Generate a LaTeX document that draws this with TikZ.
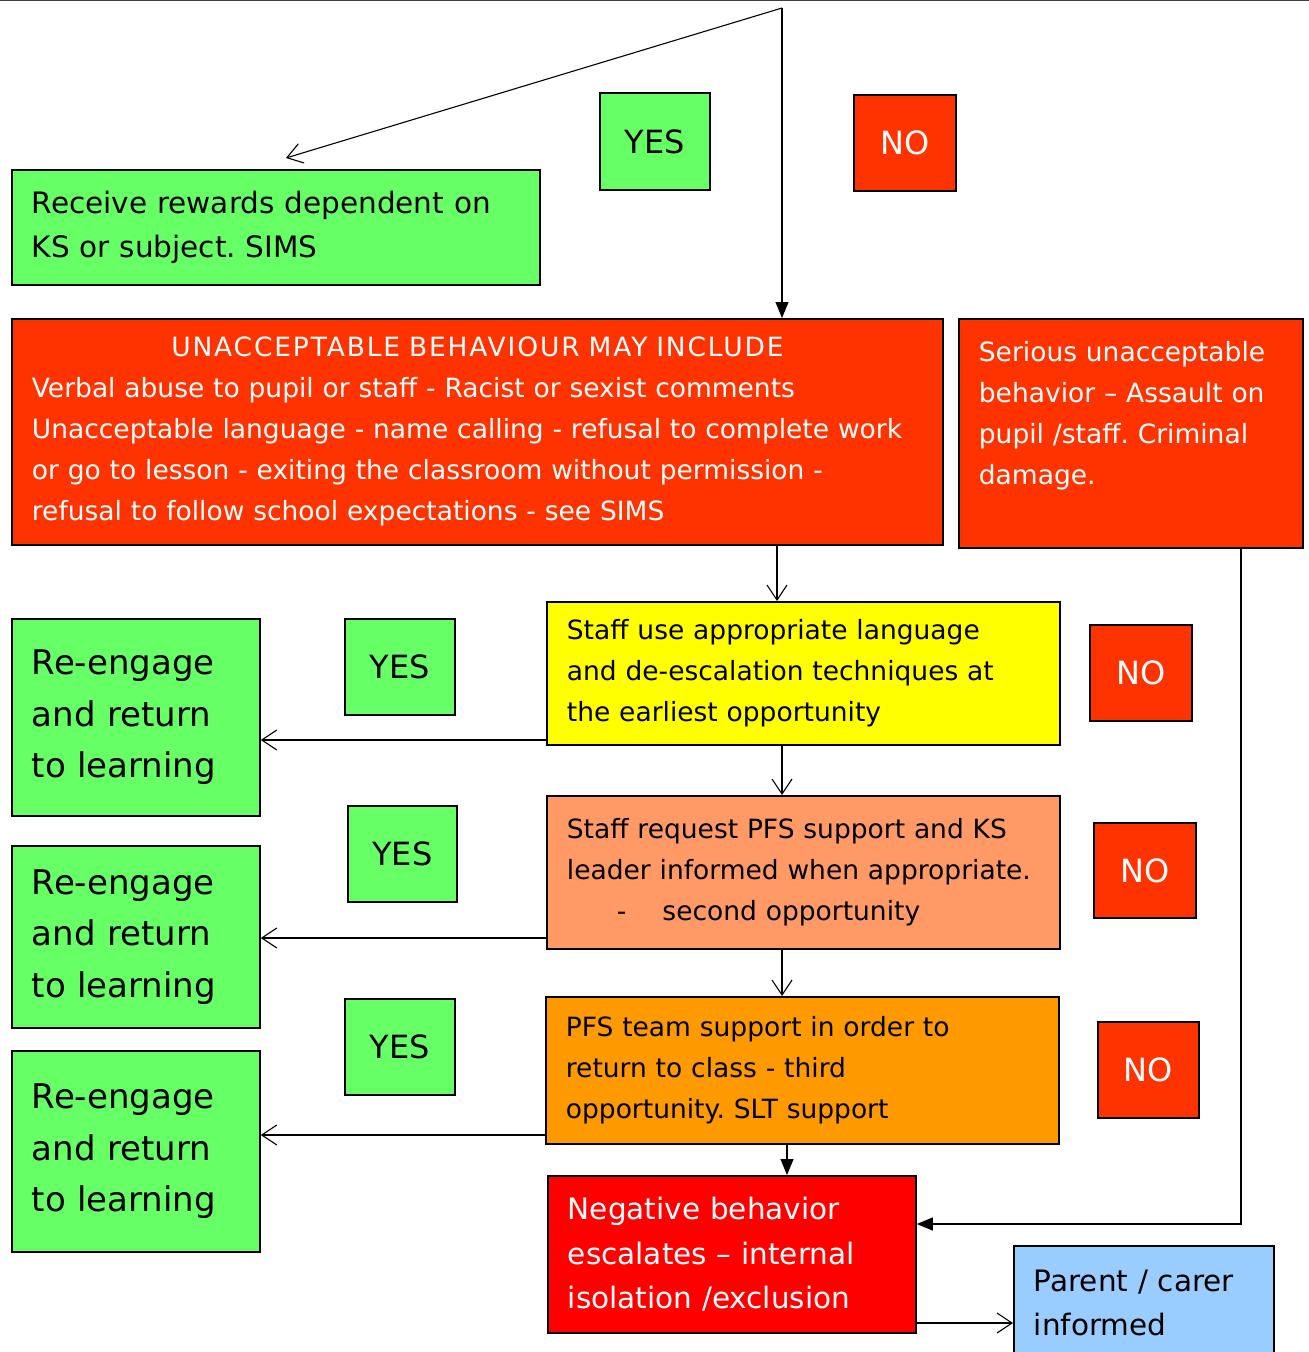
\documentclass[tikz,border=0pt]{standalone}
\usepackage{fontspec}
\setmainfont{DejaVu Sans}
\usepackage{tikz}
\usetikzlibrary{arrows.meta}
\definecolor{okgreen}{HTML}{66FF66}
\definecolor{warnred}{HTML}{FF3300}
\definecolor{calmyellow}{HTML}{FFFF00}
\definecolor{salmon}{HTML}{FF9966}
\definecolor{pfsorange}{HTML}{FF9900}
\definecolor{alarmred}{HTML}{FF0000}
\definecolor{homeblue}{HTML}{99CCFF}
\frenchspacing

\begin{document}
\begin{tikzpicture}[x=1pt,y=-1pt,
  box/.style={draw,line width=1.8pt,anchor=north west,inner xsep=20pt,inner ysep=0pt,align=left},
  body/.style={font=\fontsize{26.5}{41}\selectfont},
  mid/.style={font=\fontsize{29.5}{44.5}\selectfont},
  big/.style={font=\fontsize{34}{51.5}\selectfont},
  yesno/.style={draw,line width=1.8pt,anchor=north west,inner sep=0pt,font=\fontsize{32}{38}\selectfont},
  openarr/.style={-{Straight Barb[length=15pt,width=20pt]},line width=1.1pt},
  fullarr/.style={-{Triangle[length=16pt,width=13pt]},line width=1.1pt}]
\useasboundingbox (0,0) rectangle (1309,1352);
\draw[line width=2pt,black!75] (0,0) -- (1309,0);

% top part
\node (rewards) [box,mid,fill=okgreen,minimum width=528pt,minimum height=115pt,text width=488pt] at (11,169)
  {Receive rewards dependent on\\KS or subject. SIMS};
\node (yes1) [yesno,fill=okgreen,minimum width=110pt,minimum height=97pt] at (599,92) {YES};
\node (no1) [yesno,fill=warnred,text=white,minimum width=102pt,minimum height=96pt] at (853,94) {NO};
\node (unacc) [box,body,fill=warnred,text=white,minimum width=931pt,minimum height=226pt,text width=891pt] at (11,318)
  {\makebox[\linewidth]{\addfontfeature{LetterSpace=7}UNACCEPTABLE BEHAVIOUR MAY INCLUDE}\\
   Verbal abuse to pupil or staff - Racist or sexist comments\\
   Unacceptable language - name calling - refusal to complete work\\
   or go to lesson - exiting the classroom without permission -\\
   refusal to follow school expectations - see SIMS};
\node (serious) [box,body,fill=warnred,text=white,minimum width=344pt,minimum height=229pt,text width=304pt] at (958,318)
  {Serious unacceptable\\behavior – Assault on\\pupil /staff. Criminal\\damage.\\\mbox{}};

% the three steps
\node (deesc) [box,body,fill=calmyellow,minimum width=513pt,minimum height=143pt,text width=473pt] at (546,601)
  {Staff use appropriate language\\and de-escalation techniques at\\the earliest opportunity};
\node (pfsreq) [box,body,fill=salmon,minimum width=513pt,minimum height=153pt,text width=473pt] at (546,795)
  {Staff request PFS support and KS\\leader informed when appropriate.\\\hspace*{50pt}-\hspace{36pt}second opportunity};
\node (pfsteam) [box,body,fill=pfsorange,minimum width=513pt,minimum height=147pt,text width=473pt] at (545,996)
  {PFS team support in order to\\return to class - third\\opportunity. SLT support};
\node (escal) [box,mid,fill=alarmred,text=white,minimum width=368pt,minimum height=157pt,text width=328pt] at (547,1175)
  {Negative behavior\\escalates – internal\\isolation /exclusion};
\node (parent) [box,mid,fill=homeblue,minimum width=260pt,minimum height=114pt,text width=220pt] at (1013,1245)
  {Parent / carer\\informed};

% yes side
\node (reeng1) [box,big,fill=okgreen,minimum width=248pt,minimum height=197pt,text width=208pt] at (11,618)
  {Re-engage\\and return\\to learning};
\node (reeng2) [box,big,fill=okgreen,minimum width=248pt,minimum height=182pt,text width=208pt] at (11,845)
  {Re-engage\\and return\\to learning};
\node (reeng3) [box,big,fill=okgreen,minimum width=248pt,minimum height=201pt,text width=208pt] at (11,1050)
  {Re-engage\\and return\\to learning};
\node (yes2) [yesno,fill=okgreen,minimum width=110pt,minimum height=96pt] at (344,618) {YES};
\node (yes3) [yesno,fill=okgreen,minimum width=109pt,minimum height=96pt] at (347,805) {YES};
\node (yes4) [yesno,fill=okgreen,minimum width=110pt,minimum height=96pt] at (344,998) {YES};

% no side
\node (no2) [yesno,fill=warnred,text=white,minimum width=102pt,minimum height=96pt] at (1089,624) {NO};
\node (no3) [yesno,fill=warnred,text=white,minimum width=102pt,minimum height=95pt] at (1093,822) {NO};
\node (no4) [yesno,fill=warnred,text=white,minimum width=101pt,minimum height=96pt] at (1097,1021) {NO};

% connectors
\coordinate (top) at (782,8);
\draw[openarr] (top) -- ([xshift=10pt,yshift=11pt]rewards.north);
\draw[fullarr] (top) -- (top |- unacc.north);
\draw[openarr] (777,0 |- unacc.south) -- (777,0 |- deesc.north);
\draw[openarr] (782,0 |- deesc.south) -- (782,0 |- pfsreq.north);
\draw[openarr] (782,0 |- pfsreq.south) -- (782,0 |- pfsteam.north);
\draw[fullarr] (787,0 |- pfsteam.south) -- (787,0 |- escal.north);
\draw[openarr] (deesc.west |- 0,740) -- (reeng1.east |- 0,740);
\draw[openarr] (pfsreq.west |- 0,938) -- (reeng2.east |- 0,938);
\draw[openarr] (pfsteam.west |- 0,1135) -- (reeng3.east |- 0,1135);
\draw[fullarr] (1241,0 |- serious.south) |- (escal.east |- 0,1224);
\draw[openarr] (escal.east |- 0,1323) -- (parent.west |- 0,1323);
\end{tikzpicture}
\end{document}
